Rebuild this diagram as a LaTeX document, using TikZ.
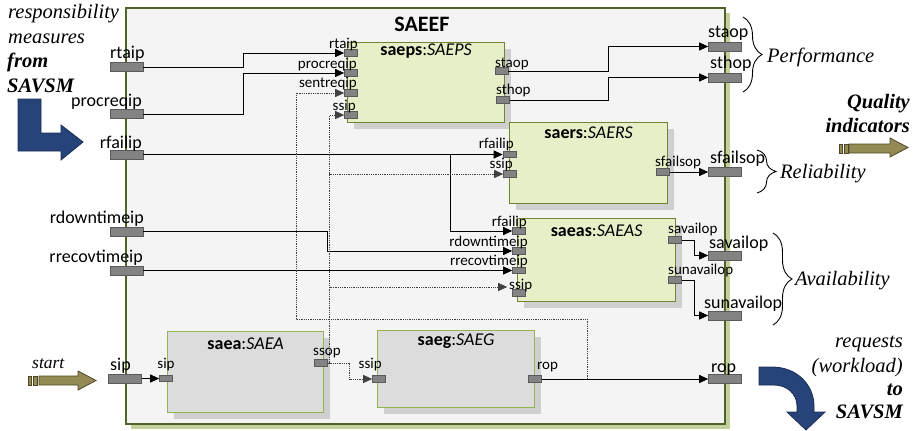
\documentclass[tikz,border=0pt]{standalone}
\usepackage{fontspec}
\setmainfont{Liberation Serif}
\newfontfamily\calfont{Carlito}
\usetikzlibrary{arrows.meta,decorations.pathreplacing,shadows}
\definecolor{outerfill}{HTML}{F4F4F4}
\definecolor{outerdraw}{HTML}{4F6228}
\definecolor{outershadow}{HTML}{C3D09B}
\definecolor{greenfill}{HTML}{E6EFC7}
\definecolor{greendraw}{HTML}{6E8531}
\definecolor{greyfill}{HTML}{DCDCDC}
\definecolor{greydraw}{HTML}{94B357}
\definecolor{blockshadow}{HTML}{CFCFCF}
\definecolor{portfill}{HTML}{838383}
\definecolor{portdraw}{HTML}{5A5A5A}
\definecolor{bluearrow}{HTML}{264479}
\definecolor{bluedraw}{HTML}{1A2E55}
\definecolor{olivearrow}{HTML}{948A54}
\definecolor{olivedraw}{HTML}{4D4626}
\begin{document}
\begin{tikzpicture}[x=1pt,y=-1pt,
  outerbox/.style={draw=outerdraw, fill=outerfill, line width=1.5pt, inner sep=0, anchor=north west,
    drop shadow={shadow xshift=5pt, shadow yshift=-5pt, fill=outershadow, opacity=1}},
  greenblock/.style={draw=greendraw, fill=greenfill, line width=1.2pt, inner sep=0, anchor=north west,
    drop shadow={shadow xshift=6pt, shadow yshift=-6pt, fill=blockshadow, opacity=1}},
  greyblock/.style={draw=greydraw, fill=greyfill, line width=1.2pt, inner sep=0, anchor=north west,
    drop shadow={shadow xshift=6pt, shadow yshift=-6pt, fill=blockshadow, opacity=1}},
  oport/.style={draw=portdraw, fill=portfill, minimum width=33pt, minimum height=9pt, inner sep=0, line width=0.6pt},
  iport/.style={draw=portdraw, fill=portfill, minimum width=13pt, minimum height=6.5pt, inner sep=0, line width=0.6pt},
  olbl/.style={font=\calfont\fontsize{18}{20}\selectfont, inner sep=0},
  ilbl/.style={font=\calfont\fontsize{15}{17}\selectfont, inner sep=0},
  ttl/.style={font=\calfont\fontsize{18}{20}\selectfont, inner sep=0, anchor=base},
  serif/.style={font=\fontsize{20.5}{24}\selectfont\itshape, inner sep=0},
  conn/.style={line width=0.9pt, -{Triangle[length=9pt,width=8pt]}},
  dconn/.style={line width=0.8pt, densely dotted, black!75, -{Triangle[length=9pt,width=8pt]}},
  bluefig/.style={fill=bluearrow, draw=bluedraw, line width=0.8pt},
  olivefig/.style={fill=olivearrow, draw=olivedraw, line width=0.8pt},
  bracepath/.style={decorate, decoration={brace, amplitude=19pt}, line width=0.9pt}
]
\useasboundingbox (0,0) rectangle (919,431);

% outer component
\node[outerbox, minimum width=599pt, minimum height=416pt] (saeef) at (125,7) {};
\node[font=\calfont\bfseries\fontsize{22}{24}\selectfont, inner sep=0, anchor=base] (saeefT) at (422,31) {SAEEF};

% inner blocks
\node[greenblock, minimum width=157pt, minimum height=80pt] (saeps) at (347,42) {};
\node[greenblock, minimum width=158pt, minimum height=81pt] (saers) at (509,122) {};
\node[greenblock, minimum width=158pt, minimum height=83pt] (saeas) at (517,218) {};
\node[greyblock, minimum width=156pt, minimum height=81pt] (saea) at (167,331) {};
\node[greyblock, minimum width=157pt, minimum height=77pt] (saeg) at (377,330) {};

\node[ttl] (saepsT) at ([yshift=-13pt]saeps.north) {\textbf{saeps}:\textit{SAEPS}};
\node[ttl] (saersT) at ([yshift=-16pt]saers.north) {\textbf{saers}:\textit{SAERS}};
\node[ttl] (saeasT) at ([yshift=-18pt]saeas.north) {\textbf{saeas}:\textit{SAEAS}};
\node[ttl] (saeaT) at ([yshift=-18pt]saea.north) {\textbf{saea}:\textit{SAEA}};
\node[ttl] (saegT) at ([yshift=-15pt]saeg.north) {\textbf{saeg}:\textit{SAEG}};

% outer ports
\node[oport] (o-rtaip) at (126.5,67) {};
\node[oport] (o-procreqip) at (126.5,114) {};
\node[oport] (o-rfailip) at (126.5,154.5) {};
\node[oport] (o-rdowntimeip) at (126.5,231.5) {};
\node[oport] (o-rrecovtimeip) at (126.5,270.5) {};
\node[oport] (o-sip) at (125,378.5) {};
\node[oport] (o-staop) at (725,46.5) {};
\node[oport] (o-sthop) at (725,77.5) {};
\node[oport] (o-sfailsop) at (725,172) {};
\node[oport] (o-savailop) at (725,255.5) {};
\node[oport] (o-sunavailop) at (725,315.5) {};
\node[oport] (o-rop) at (725,379) {};

% inner ports
\node[iport] (saeps-rtaip) at (351,53) {};
\node[iport] (saeps-procreqip) at (351,73) {};
\node[iport] (saeps-sentreqip) at (351,93) {};
\node[iport] (saeps-ssip) at (351,115) {};
\node[iport] (saeps-staop) at (501.5,71) {};
\node[iport] (saeps-sthop) at (503,100) {};
\node[iport] (saers-rfailip) at (509.5,154.5) {};
\node[iport] (saers-ssip) at (510,174) {};
\node[iport] (saers-sfailsop) at (663,172) {};
\node[iport] (saeas-rfailip) at (519,231) {};
\node[iport] (saeas-rdowntimeip) at (519,251) {};
\node[iport] (saeas-rrecovtimeip) at (519,270.5) {};
\node[iport] (saeas-ssip) at (519,293) {};
\node[iport] (saeas-savailop) at (675,240) {};
\node[iport] (saeas-sunavailop) at (675,280) {};
\node[iport] (saea-sip) at (166,378.5) {};
\node[iport] (saea-ssop) at (321,363) {};
\node[iport] (saeg-ssip) at (379,379) {};
\node[iport] (saeg-rop) at (535,379) {};

% solid connectors
\draw[conn] (o-rtaip.east) -- ++(100,0) |- (saeps-rtaip.west);
\draw[conn] (o-procreqip.east) -- ++(100,0) |- (saeps-procreqip.west);
\draw[conn] (o-rfailip.east) -- (saers-rfailip.west);
\coordinate (rfbranch) at (450,154.5);
\draw[conn] (rfbranch) |- (saeas-rfailip.west);
\draw[conn] (o-rdowntimeip.east) -- ++(184,0) |- (saeas-rdowntimeip.west);
\draw[conn] (o-rrecovtimeip.east) -- (saeas-rrecovtimeip.west);
\draw[conn] (o-sip.east) -- (saea-sip.west);
\draw[conn] (saeps-staop.east) -- ++(100,0) |- (o-staop.west);
\draw[conn] (saeps-sthop.east) -- ++(99,0) |- (o-sthop.west);
\draw[conn] (saers-sfailsop.east) -- (o-sfailsop.west);
\draw[conn] (saeas-savailop.east) -- ++(13,0) |- (o-savailop.west);
\draw[conn] (saeas-sunavailop.east) -- ++(13,0) |- (o-sunavailop.west);
\draw[conn] (saeg-rop.east) -- (o-rop.west);

% dotted connectors
\draw[dconn] (saea-ssop.east) -- ++(2,0) |- (saeps-ssip.west);
\draw[dconn] (saea-ssop.east) -- ++(2,0) |- (saers-ssip.west);
\draw[dconn] (saea-ssop.east) -- ++(2,0) |- ([xshift=-5pt,yshift=6pt]saeas-ssip.west);
\draw[dconn] (saea-ssop.east) -- ++(22,0) |- (saeg-ssip.west);
\coordinate (ropfork) at (587,379);
\draw[dconn] (ropfork) -- ++(0,-60) -- ++(-291,0) |- (saeps-sentreqip.west);

% outer port labels
\node[olbl, anchor=base west] (l-o-rtaip) at (110,58) {rtaip};
\node[olbl, anchor=base east] (l-o-procreqip) at (142,106) {procreqip};
\node[olbl, anchor=base east] (l-o-rfailip) at (142,148) {rfailip};
\node[olbl, anchor=base east] (l-o-rdowntimeip) at (144,223) {rdowntimeip};
\node[olbl, anchor=base east] (l-o-rrecovtimeip) at (143,262) {rrecovtimeip};
\node[olbl, anchor=base west] (l-o-sip) at (110,370) {sip};
\node[olbl, anchor=base west] (l-o-staop) at (708,37) {staop};
\node[olbl, anchor=base west] (l-o-sthop) at (710,68) {sthop};
\node[olbl, anchor=base west] (l-o-sfailsop) at (710,163) {sfailsop};
\node[olbl, anchor=base west] (l-o-savailop) at (709,248) {savailop};
\node[olbl, anchor=base west] (l-o-sunavailop) at (704,308) {sunavailop};
\node[olbl, anchor=base west] (l-o-rop) at (711,372) {rop};

% inner port labels
\node[ilbl, anchor=base east] (l-saeps-rtaip) at (358,48) {rtaip};
\node[ilbl, anchor=base east] (l-saeps-procreqip) at (357,68) {procreqip};
\node[ilbl, anchor=base east] (l-saeps-sentreqip) at (357,87) {sentreqip};
\node[ilbl, anchor=base east] (l-saeps-ssip) at (356,110) {ssip};
\node[ilbl, anchor=base west] (l-saeps-staop) at (495,67) {staop};
\node[ilbl, anchor=base west] (l-saeps-sthop) at (496,94) {sthop};
\node[ilbl, anchor=base east] (l-saers-rfailip) at (514,148) {rfailip};
\node[ilbl, anchor=base east] (l-saers-ssip) at (513,168) {ssip};
\node[ilbl, anchor=base west] (l-saers-sfailsop) at (655,166) {sfailsop};
\node[ilbl, anchor=base east] (l-saeas-rfailip) at (527,226) {rfailip};
\node[ilbl, anchor=base east] (l-saeas-rdowntimeip) at (528,246) {rdowntimeip};
\node[ilbl, anchor=base east] (l-saeas-rrecovtimeip) at (528,265) {rrecovtimeip};
\node[ilbl, anchor=base west] (l-saeas-ssip) at (509,289) {ssip};
\node[ilbl, anchor=base west] (l-saeas-savailop) at (668,233) {savailop};
\node[ilbl, anchor=base west] (l-saeas-sunavailop) at (668,274) {sunavailop};
\node[ilbl, anchor=base] (l-saea-sip) at (166,368) {sip};
\node[ilbl, anchor=base west] (l-saea-ssop) at (313,355) {ssop};
\node[ilbl, anchor=base east] (l-saeg-ssip) at (382,368) {ssip};
\node[ilbl, anchor=base west] (l-saeg-rop) at (537,369) {rop};

% braces and group texts
\draw[bracepath] (743,17) -- (743,92);
\draw[bracepath] (757,150) -- (757,193);
\draw[bracepath] (773,233) -- (773,325);
\node[serif, anchor=base west] (perf) at (767,62.5) {Performance};
\node[serif, anchor=base west] (rel) at (780,178) {Reliability};
\node[serif, anchor=base west] (avail) at (795,285) {Availability};

% left-top text
\node[serif, anchor=base west] (t1) at (8,19) {responsibility};
\node[serif, anchor=base west] (t2) at (8,43) {measures};
\node[serif, anchor=base west] (t3) at (7,67) {\bfseries from};
\node[serif, anchor=base west] (t4) at (7,92) {\bfseries SAVSM};

% right texts
\node[serif, anchor=base east] (q1) at (910,108) {\bfseries Quality};
\node[serif, anchor=base east] (q2) at (910,132) {\bfseries indicators};
\node[serif, anchor=base east] (r1) at (903,347) {requests};
\node[serif, anchor=base east] (r2) at (903,372) {(workload)};
\node[serif, anchor=base east] (r3) at (903,395) {\bfseries to};
\node[serif, anchor=base east] (r4) at (903,418) {\bfseries SAVSM};
\node[font=\fontsize{17.5}{20}\selectfont\itshape, inner sep=0, anchor=base west] (st) at (32,368) {start};

% big arrows
\draw[bluefig] (18,99) -- (41,99) -- (41,133) -- (61,133) -- (61,125) -- (83,142) -- (61,160) -- (61,151) -- (18,151) -- cycle;
\draw[bluefig] (759,367) -- (772,367) .. controls (797,367) and (814,385) .. (814,406) -- (814,412) -- (825,412) -- (806,430) -- (787,412) -- (797,412) -- (797,406) .. controls (797,394) and (787,385) .. (774,385) -- (759,385) -- cycle;

\draw[olivefig] (839,144) rectangle (842.5,153);
\draw[olivefig] (844,144) rectangle (848,153);
\draw[olivefig] (849,144) -- (890,144) -- (890,138) -- (908,147.5) -- (890,157) -- (890,153) -- (849,153) -- cycle;

\draw[olivefig] (28,376) rectangle (31.5,385);
\draw[olivefig] (33,376) rectangle (37.5,385);
\draw[olivefig] (39,376) -- (78,376) -- (78,371) -- (96,380.5) -- (78,390) -- (78,385) -- (39,385) -- cycle;
\end{tikzpicture}
\end{document}
